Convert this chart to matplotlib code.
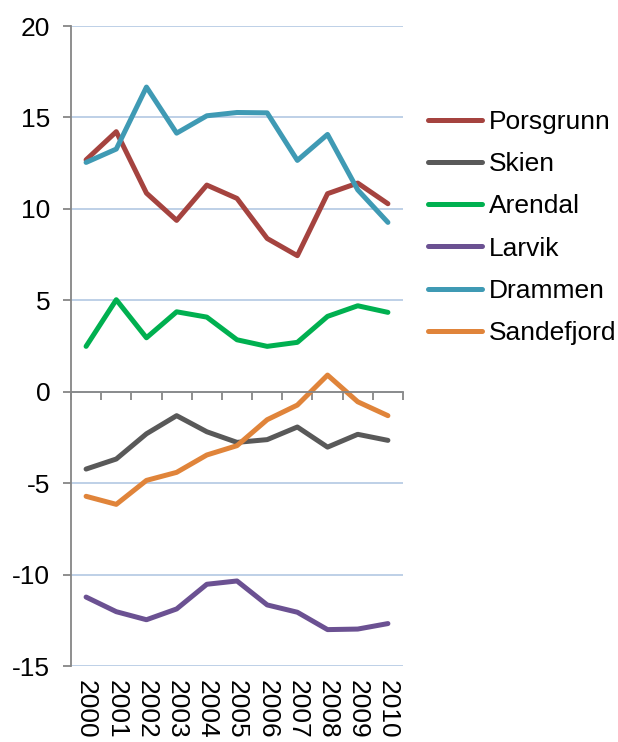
import matplotlib.pyplot as plt
import numpy as np

plt.rcParams['font.family'] = ['Liberation Sans', 'DejaVu Sans']
plt.rcParams['axes.unicode_minus'] = False

# Values
years = ['2000', '2001', '2002', '2003', '2004', '2005',
         '2006', '2007', '2008', '2009', '2010']

porsgrunn = [12.68, 14.22, 10.86, 9.37, 11.30, 10.57, 8.38, 7.44, 10.83, 11.41, 10.28]
skien = [-4.23, -3.68, -2.30, -1.31, -2.19, -2.77, -2.62, -1.93, -3.03, -2.33, -2.66]
arendal = [2.48, 5.03, 2.95, 4.37, 4.08, 2.84, 2.48, 2.70, 4.12, 4.70, 4.34]
larvik = [-11.23, -12.03, -12.47, -11.88, -10.53, -10.35, -11.66, -12.06, -13.01, -12.98, -12.68]
drammen = [12.54, 13.27, 16.66, 14.14, 15.09, 15.27, 15.25, 12.65, 14.07, 11.04, 9.26]
sandefjord = [-5.72, -6.16, -4.85, -4.41, -3.46, -2.95, -1.53, -0.73, 0.91, -0.55, -1.31]

series = [('Porsgrunn', porsgrunn, '#A5433F'),
          ('Skien', skien, '#595959'),
          ('Arendal', arendal, '#00B050'),
          ('Larvik', larvik, '#6B5192'),
          ('Drammen', drammen, '#3F9AB4'),
          ('Sandefjord', sandefjord, '#E0843A')]

fig = plt.figure(figsize=(6.18, 7.42), dpi=100)
ax = fig.add_axes([71/618, 1-666/742, (403-71)/618, (666-26)/742])

x = np.arange(len(years))
for name, vals, col in series:
	ax.plot(x, vals, color=col, lw=3.6, label=name,
		solid_capstyle='round', solid_joinstyle='round')

ax.set_xlim(-0.5, len(years)-0.5)
ax.set_ylim(-15, 20)
ax.set_yticks(np.arange(-15, 21, 5))
ax.yaxis.grid(True, color='#B9CDE5', lw=1.3)
ax.set_axisbelow(True)

for s in ['top', 'right']:
	ax.spines[s].set_visible(False)
ax.spines['left'].set_color('#868686')
ax.spines['left'].set_linewidth(1.3)
ax.spines['bottom'].set_position(('data', 0))
ax.spines['bottom'].set_color('#868686')
ax.spines['bottom'].set_linewidth(1.3)

# category boundary ticks on the zero axis, no labels
ax.set_xticks(np.arange(-0.5, len(years), 1.0))
ax.set_xticklabels([])
ax.tick_params(axis='x', direction='out', length=6, width=1.3, color='#868686')
ax.tick_params(axis='y', direction='out', length=6, width=1.3, color='#868686',
	labelsize=19, pad=9)

# year labels at the bottom
sec = ax.secondary_xaxis(0.0)
sec.set_xticks(x)
sec.set_xticklabels(years, rotation=-90)
sec.tick_params(length=0, labelsize=19, pad=10)
sec.spines['bottom'].set_visible(False)

fig.legend(loc='center left', bbox_to_anchor=(428/618, 1-227.5/742),
	frameon=False, fontsize=19, handlelength=2.05, handletextpad=0.25,
	labelspacing=0.69, borderpad=0, borderaxespad=0)

fig.savefig('out.png', dpi=100)
